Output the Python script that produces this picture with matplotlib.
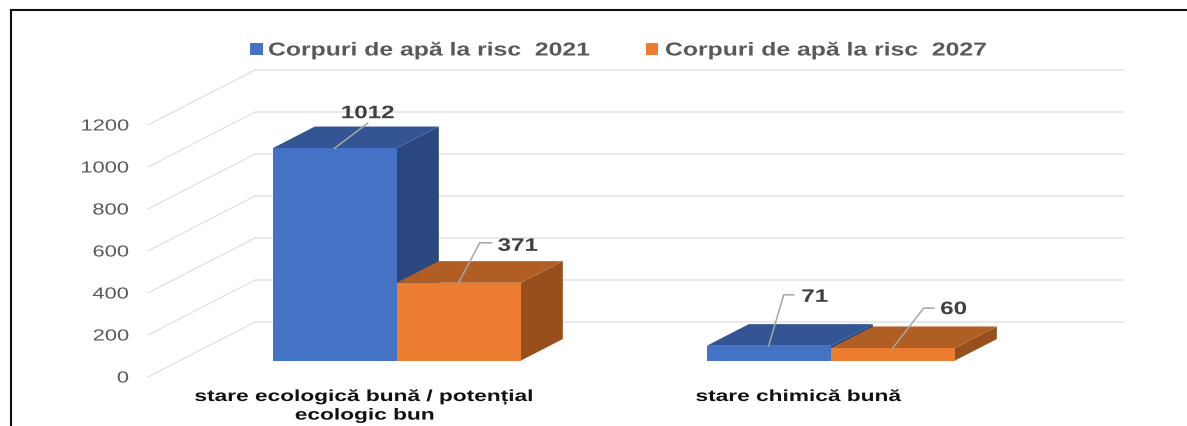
import matplotlib
matplotlib.use("Agg")
import matplotlib.pyplot as plt
import matplotlib.patheffects as pe
from matplotlib.lines import Line2D
from matplotlib.patches import Polygon, Rectangle
from matplotlib.transforms import Affine2D, IdentityTransform

plt.rcParams["font.family"] = ["Liberation Sans", "DejaVu Sans"]

categories = ["stare ecologică bună / potențial\necologic bun", "stare chimică bună"]
series_names = ["Corpuri de apă la risc  2021", "Corpuri de apă la risc  2027"]
values_2021 = [1012, 71]
values_2027 = [371, 60]
y_ticks = [0, 200, 400, 600, 800, 1000, 1200]

W, H = 1187, 427
GREY = "#595959"
FRONT = ["#4472C4", "#ED7D31"]
TOP = ["#335593", "#B15E24"]
SIDE = ["#2A4780", "#974F1C"]

# 3d look: a point at depth d is shifted by d * (DX, DY)
DX = 107 / 434
DY = 55 / 0.21
BAR_W = 0.2857
D0, D1 = 0.296, 0.69


class Widen(pe.AbstractPathEffect):
    # the reference is stretched sideways, text has to follow
    def __init__(self, sx, x0):
        super().__init__()
        self.sx = sx
        self.x0 = x0

    def draw_path(self, renderer, gc, tpath, affine, rgbFace=None):
        t = affine + Affine2D().translate(-self.x0, 0).scale(self.sx, 1).translate(self.x0, 0)
        renderer.draw_path(gc, tpath, t, rgbFace)


def proj(x, v, d):
    return x + d * DX, v + d * DY


def px_text(x, y, s, sx=1.4, **kw):
    fig.text(x / W, 1 - y / H, s, path_effects=[Widen(sx, x)], **kw)


fig = plt.figure(figsize=(W / 100, H / 100), dpi=100)
ax = fig.add_axes([148 / W, 1 - 378 / H, 868 / W, 252 / H])
ax.set_xlim(-0.5, 1.5)
ax.set_ylim(0, 1200)
ax.axis("off")

# frame of the pasted picture
fig.add_artist(Line2D([11 / W, 11 / W], [0, 1 - 11 / H], color="#111111", lw=1.5))
fig.add_artist(Line2D([11 / W, 1], [1 - 11 / H, 1 - 11 / H], color="#111111", lw=1.5))

# grid on the back wall and on the side
for v in y_ticks:
    x0, y0 = proj(-0.5, v, 0)
    x1, y1 = proj(-0.5, v, 1)
    x2, y2 = proj(1.5, v, 1)
    ax.plot([x0, x1], [y0, y1], color="#DDDDDD", lw=0.8, clip_on=False, zorder=0.5)
    ax.plot([x1, x2], [y1, y2], color="#E3E3E3", lw=1.1, clip_on=False, zorder=0.5)
    ty = ax.transData.transform((0, v))[1]
    px_text(129, H - ty + 1, str(v), sx=1.37, ha="right", va="center", fontsize=11.5, color=GREY)

# bars
bar_sets = [values_2021, values_2027]
for s, vals in enumerate(bar_sets):
    for i, v in enumerate(vals):
        a = i - BAR_W + s * BAR_W
        b = a + BAR_W
        ax.add_patch(Polygon([proj(b, 0, D0), proj(b, 0, D1), proj(b, v, D1), proj(b, v, D0)],
                             fc=SIDE[s], ec="none", clip_on=False))
        ax.add_patch(Polygon([proj(a, v, D0), proj(b, v, D0), proj(b, v, D1), proj(a, v, D1)],
                             fc=TOP[s], ec="none", clip_on=False))
        ax.add_patch(Polygon([proj(a, 0, D0), proj(b, 0, D0), proj(b, v, D0), proj(a, v, D0)],
                             fc=FRONT[s], ec="none", clip_on=False))

# value labels with leader lines, offsets in pixels from the bar top
leaders = {
    (0, 0): [(33, 25), (33, 25)],
    (1, 0): [(21, 40), (33, 40)],
    (0, 1): [(15, 51), (25, 51)],
    (1, 1): [(31, 40), (41, 40)],
}
text_at = {(0, 0): (33, 36), (1, 0): (59, 38), (0, 1): (46, 50), (1, 1): (61, 40)}
for s, vals in enumerate(bar_sets):
    for i, v in enumerate(vals):
        cx = i - BAR_W + s * BAR_W + BAR_W / 2
        px, py = ax.transData.transform(proj(cx, v, D0))
        pts = [(px, py)] + [(px + dx, py + dy) for dx, dy in leaders[(s, i)]]
        fig.add_artist(Line2D([p[0] for p in pts], [p[1] for p in pts], color="#A6A6A6", lw=1.1,
                              transform=IdentityTransform()))
        tx, ty = text_at[(s, i)]
        px_text(px + tx, H - py - ty + 1.5, str(v), sx=1.34, ha="center", va="center", fontsize=13,
                color="#404040", fontweight="bold")

# category labels
for i, c in enumerate(categories):
    px = ax.transData.transform((i, 0))[0]
    px_text(px, 390, c, sx=1.42, ha="center", va="top", fontsize=11.5, color="#111111",
            fontweight="bold", linespacing=1.3)

# legend
for s, (sq_x, tx) in enumerate([(250, 268), (646, 665)]):
    fig.add_artist(Rectangle((sq_x / W, 1 - 56 / H), 12.5 / W, 12.5 / H, fc=FRONT[s], ec="none",
                             transform=fig.transFigure))
    px_text(tx, 52, series_names[s], sx=1.32, ha="left", va="center", fontsize=13.5, color=GREY,
            fontweight="bold")

fig.savefig("out.png", dpi=100)
